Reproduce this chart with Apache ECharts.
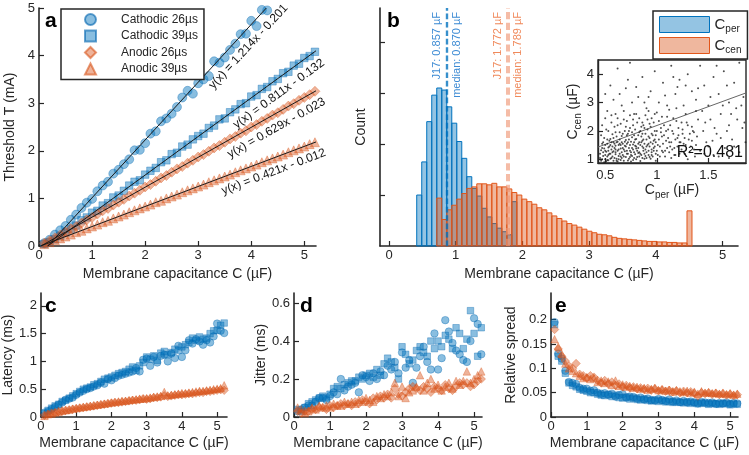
<!DOCTYPE html>
<html>
<head>
<meta charset="utf-8">
<script src="https://cdn.jsdelivr.net/npm/echarts@6.0.0/dist/echarts.min.js"></script>
<style>
html,body{margin:0;padding:0;background:#fff}
#main{width:749px;height:455px}
</style>
</head>
<body>
<div id="main"></div>
<script>
// membrane capacitance sample points (uF)
var C = [0.1,0.2,0.3,0.4,0.5,0.6,0.7,0.8,0.9,1.0,1.1,1.2,1.3,1.4,1.5,1.6,1.7,1.8,1.9,2.0,
         2.1,2.2,2.3,2.4,2.5,2.6,2.7,2.8,2.9,3.0,3.1,3.2,3.3,3.4,3.5,3.6,3.7,3.8,3.9,4.0,
         4.1,4.2,4.3,4.4,4.5,4.6,4.7,4.8,4.9,5.0,5.1,5.2];
var NAMES = ['Cathodic 26\u00b5s','Cathodic 39\u00b5s','Anodic 26\u00b5s','Anodic 39\u00b5s'];

// a: threshold (mA)
var thrCat26 = [0.06,0.13,0.24,0.33,0.42,0.55,0.66,0.80,0.91,0.99,1.15,1.27,1.35,1.52,1.60,1.72,1.82,2.01,2.02,2.16,
                2.36,2.41,2.62,2.68,2.78,2.92,3.12,3.26,3.20,3.42,3.50,3.57,3.88,3.85,3.96,4.12,4.25,4.45,4.46,4.73,
                4.62,4.96,4.95];
var thrCat39 = [0.04,0.08,0.14,0.21,0.28,0.36,0.43,0.54,0.60,0.70,0.74,0.85,0.90,1.02,1.06,1.16,1.27,1.35,1.38,1.50,
                1.58,1.64,1.76,1.80,1.93,1.96,2.09,2.13,2.24,2.31,2.36,2.48,2.53,2.66,2.68,2.81,2.87,2.98,3.00,3.14,
                3.17,3.30,3.34,3.46,3.51,3.63,3.66,3.79,3.83,3.95,3.99,4.08];
var thrAno26 = [0.06,0.11,0.17,0.23,0.29,0.36,0.41,0.48,0.55,0.60,0.67,0.74,0.79,0.86,0.92,0.98,1.05,1.11,1.17,1.24,
                1.29,1.36,1.43,1.48,1.55,1.62,1.67,1.74,1.80,1.87,1.92,1.99,2.06,2.11,2.18,2.25,2.30,2.37,2.42,2.50,
                2.55,2.62,2.68,2.75,2.80,2.87,2.94,2.99,3.06,3.12,3.18,3.25];
var thrAno39 = [0.04,0.08,0.12,0.16,0.20,0.24,0.29,0.32,0.37,0.41,0.45,0.50,0.53,0.58,0.62,0.66,0.71,0.75,0.79,0.83,
                0.87,0.92,0.95,1.00,1.04,1.08,1.13,1.17,1.21,1.25,1.29,1.34,1.38,1.42,1.46,1.50,1.55,1.59,1.63,1.67,
                1.71,1.76,1.80,1.84,1.88,1.92,1.97,2.01,2.05,2.09,2.14,2.18];
// fit lines y = m x + b
var FIT_M = [1.214, 0.811, 0.629, 0.421];
var FIT_B = [-0.201, -0.132, -0.023, -0.012];
var FIT_TXT = ['y(x) = 1.214x - 0.201','y(x) = 0.811x - 0.132','y(x) = 0.629x - 0.023','y(x) = 0.421x - 0.012'];
var FIT_TXT_END = [4.47, 5.21, 5.26, 5.31];

// b: histograms, common bins
var BIN0 = 0.4155, BINW = 0.075;
var histPer = [1.0,1.65,2.44,2.96,3.1,3.06,2.73,2.41,2.05,1.72,1.36,1.13,0.98,0.74,0.57,0.44,0.35,0.28,0.22,0.87];
var histCenFirstBin = 4;
var histCen = [0.94,0.52,0.71,0.80,0.92,1.03,1.13,1.16,1.22,1.22,1.2,1.23,1.16,1.16,1.12,1.05,1.0,0.92,0.87,0.82,
               0.75,0.71,0.65,0.59,0.54,0.49,0.44,0.41,0.37,0.33,0.29,0.26,0.23,0.22,0.2,0.17,0.15,0.14,0.13,0.12,
               0.11,0.1,0.09,0.09,0.08,0.08,0.07,0.07,0.06,0.06,0.69];
var perLines = [['J17: 0.857 \u00b5F',0.857],['median: 0.870 \u00b5F',0.870]];
var cenLines = [['J17: 1.772 \u00b5F',1.772],['median: 1.789 \u00b5F',1.789]];

// b inset: C_cen vs C_per
var insetPts = [[0.46,0.95],[0.48,1.12],[0.5,1.3],[0.47,1.55],[0.52,0.98],[0.55,1.2],[0.53,1.42],[0.56,1.05],[0.58,1.6],[0.6,1.18],
 [0.49,1.75],[0.62,0.92],[0.63,1.35],[0.65,1.5],[0.57,1.88],[0.61,1.02],[0.66,1.25],[0.68,1.1],[0.7,1.45],[0.64,1.7],
 [0.72,0.96],[0.74,1.3],[0.69,1.62],[0.71,1.85],[0.75,1.15],[0.77,1.52],[0.78,1.05],[0.8,1.38],[0.73,2.0],[0.82,1.22],
 [0.79,1.7],[0.84,0.94],[0.85,1.6],[0.87,1.3],[0.83,1.95],[0.89,1.12],[0.9,1.45],[0.92,1.8],[0.88,2.1],[0.94,1.02],
 [0.95,1.35],[0.97,1.65],[0.99,1.2],[0.93,2.25],[0.51,2.05],[0.54,1.65],[0.59,1.4],[0.62,2.2],[0.67,1.9],[0.7,2.15],
 [0.76,1.78],[0.81,2.3],[0.86,1.9],[0.91,2.4],[0.98,2.0],[0.45,1.2],[0.47,1.4],[0.5,1.0],[0.53,1.15],[0.55,1.5],
 [0.58,0.95],[0.6,1.35],[0.63,1.12],[0.65,0.98],[0.67,1.4],[0.69,1.28],[0.72,1.6],[0.74,1.08],[0.76,1.4],[0.78,1.25],
 [0.8,1.0],[0.82,1.55],[0.84,1.2],[0.86,1.45],[0.88,1.02],[0.9,1.25],[0.92,1.55],[0.95,1.15],[0.97,1.4],[0.99,0.95],
 [0.46,1.85],[0.52,1.7],[0.56,2.3],[0.6,1.95],[0.64,1.55],[0.68,2.4],[0.73,1.4],[0.77,2.2],[0.85,2.15],[0.96,1.85],
 [0.49,0.9],[0.57,1.25],[0.61,1.6],[0.66,1.05],[0.71,1.2],[0.75,0.92],[0.79,1.48],[0.83,1.1],[0.87,1.7],[0.93,1.08],
 [1.01,1.5],[1.03,1.1],[1.05,1.8],[1.07,2.2],[1.08,1.3],[1.1,2.5],[1.12,1.6],[1.14,1.05],[1.15,2.0],[1.17,1.4],
 [1.19,2.8],[1.2,1.75],[1.22,1.2],[1.24,2.3],[1.26,1.55],[1.28,2.6],[1.3,1.0],[1.32,1.9],[1.34,2.15],[1.36,1.35],
 [1.38,2.7],[1.02,2.35],[1.04,1.95],[1.06,1.25],[1.09,1.65],[1.11,2.05],[1.13,1.45],[1.16,2.45],[1.18,1.15],[1.21,2.1],
 [1.23,1.6],[1.25,1.9],[1.27,1.2],[1.29,2.3],[1.31,1.7],[1.33,1.45],[1.35,2.0],[1.37,1.1],[1.39,1.8],
 [0.52,2.7],[0.58,3.1],[0.55,3.6],[0.62,4.2],[0.66,2.9],[0.7,3.5],[0.74,4.4],[0.78,2.6],[0.82,3.2],[0.86,3.9],
 [0.9,2.8],[0.94,3.4],[0.98,4.1],[1.02,3.0],[1.06,3.7],[1.1,2.9],[1.14,4.3],[1.18,3.3],[1.22,3.8],[1.26,2.9],
 [1.3,4.0],[1.34,3.4],[1.38,3.1],[1.42,4.3],[1.46,3.6],[1.5,2.9],[1.55,3.9],[1.6,3.3],[1.65,4.1],[1.7,3.0],
 [1.75,3.7],[1.8,4.4],[1.84,3.2],[0.6,2.6],[0.88,3.0],[0.5,3.3],[0.76,3.0],[1.0,2.65],[1.2,3.55],[1.44,2.7],
 [1.42,1.3],[1.45,2.0],[1.48,1.6],[1.52,2.4],[1.55,1.15],[1.58,1.9],[1.62,2.6],[1.66,1.4],[1.7,2.2],[1.73,1.7],
 [1.77,2.8],[1.8,1.25],[1.83,2.1],[1.86,1.6],[1.47,2.3],[1.6,1.1],[1.68,2.0],[1.78,2.4],[1.5,1.45],[1.64,2.9],
 [0.45,1.05],[0.46,1.32],[0.47,1.0],[0.48,1.25],[0.48,1.6],[0.49,1.38],[0.5,1.15],[0.5,1.5],[0.51,0.93],[0.51,1.27],
 [0.52,1.55],[0.52,1.1],[0.53,1.3],[0.53,0.97],[0.54,1.45],[0.54,1.2],[0.55,1.02],[0.55,1.72],[0.56,1.35],[0.56,1.6],
 [0.57,1.1],[0.57,1.45],[0.58,1.28],[0.58,1.75],[0.59,1.05],[0.59,1.55],[0.6,1.25],[0.6,1.48],[0.61,0.95],[0.61,1.8],
 [0.62,1.3],[0.62,1.62],[0.63,1.0],[0.63,1.5],[0.64,1.2],[0.64,1.95],[0.65,1.1],[0.65,1.38],[0.66,1.6],[0.66,1.82],
 [0.67,1.15],[0.67,1.55],[0.68,1.35],[0.68,0.95],[0.69,1.48],[0.69,2.0],[0.7,1.08],[0.7,1.68],[0.71,1.3],[0.71,1.55],
 [0.72,1.2],[0.72,1.9],[0.73,1.02],[0.73,1.7],[0.74,1.5],[0.74,2.1],[0.75,1.25],[0.75,1.62],[0.76,1.12],[0.76,1.95],
 [0.77,1.35],[0.77,0.98],[0.78,1.6],[0.78,1.85],[0.79,1.18],[0.79,2.05],[0.8,1.45],[0.8,1.72],[0.81,1.08],[0.81,1.3],
 [0.82,1.85],[0.82,1.4],[0.83,1.6],[0.83,1.25],[0.84,2.0],[0.84,1.5],[0.85,1.15],[0.85,1.8],[0.86,1.05],[0.86,1.65],
 [0.87,1.4],[0.87,2.2],[0.88,1.55],[0.88,1.2],[0.89,1.9],[0.89,1.35],[0.9,1.7],[0.9,1.05],[0.91,1.5],[0.91,2.05],
 [0.92,1.3],[0.92,1.15],[0.93,1.75],[0.93,1.45],[0.94,1.6],[0.94,2.15],[0.95,1.25],[0.95,1.9],[0.96,1.1],[0.96,1.55],
 [0.97,1.3],[0.97,2.3],[0.98,1.7],[0.98,1.45],[0.99,1.85],[0.99,1.6],[1.0,1.3],[1.0,2.0],[1.01,1.15],[1.02,1.7],
 [1.03,1.45],[1.04,2.1],[1.05,1.3],[1.06,1.55],[1.07,1.85],[1.08,1.1],[1.09,2.0],[1.1,1.4],[1.11,1.75],[1.12,1.25],
 [1.13,2.2],[1.14,1.6],[1.15,1.35],[1.16,1.9],[1.17,1.15],[1.18,1.7],[1.19,2.35],[1.2,1.45],[1.21,1.85],[1.22,1.6],
 [1.24,1.35],[1.25,2.05],[1.27,1.75],[1.28,1.5],[1.3,2.2],[1.32,1.25],[1.34,1.65],[1.36,1.95],[1.38,1.5],[1.4,2.4],
 [0.47,2.2],[0.5,2.45],[0.53,2.0],[0.56,2.55],[0.59,2.15],[0.62,2.45],[0.65,2.25],[0.68,2.7],[0.71,2.35],[0.74,2.55],
 [0.77,2.4],[0.8,2.6],[0.83,2.45],[0.86,2.3],[0.89,2.55],[0.92,2.7],[0.95,2.45],[0.98,2.6],[1.05,2.5],[1.12,2.75],
 [0.64,3.3],[0.72,3.8],[0.8,3.55],[0.92,3.2],[1.08,3.25],[1.16,3.9],[1.28,3.6],[1.4,3.5],[1.52,3.2],[1.58,4.3],
 [1.68,3.6],[1.72,2.6],[1.82,2.9],[1.56,2.1],[1.62,1.75],[1.75,1.45],[1.46,1.2],[1.54,1.65],[1.7,1.05],[1.85,2.3]];
var insetFit = [1.33, 0.86];

// c: latency (ms)
var latCat26 = [0.08,0.10,0.14,0.18,0.22,0.26,0.31,0.33,0.35,0.40,0.44,0.47,0.50,0.52,0.55,0.57,0.62,0.60,0.68,0.66,
                0.70,0.74,0.76,0.78,0.80,0.82,0.88,0.82,1.03,1.05,0.92,1.08,0.98,1.10,1.12,1.00,1.14,1.06,1.28,1.08,
                1.20,1.38,1.32,1.40,1.36,1.30,1.38,1.34,1.45,1.68,1.55,1.51];
var latCat39 = [0.06,0.12,0.16,0.20,0.23,0.28,0.30,0.34,0.38,0.42,0.46,0.50,0.52,0.54,0.58,0.60,0.64,0.68,0.70,0.72,
                0.75,0.78,0.80,0.82,0.86,0.90,0.84,0.92,0.98,1.08,1.04,1.10,1.02,1.15,1.18,1.12,1.16,1.22,1.20,1.26,
                1.30,1.34,1.42,1.38,1.44,1.40,1.42,1.50,1.55,1.56,1.65,1.69];
var latAno26 = [0.03,0.05,0.07,0.08,0.10,0.11,0.12,0.13,0.14,0.15,0.16,0.17,0.18,0.19,0.20,0.21,0.22,0.23,0.24,0.25,
                0.26,0.26,0.27,0.28,0.29,0.30,0.30,0.31,0.33,0.32,0.33,0.35,0.35,0.36,0.38,0.37,0.38,0.39,0.40,0.40,
                0.41,0.42,0.42,0.43,0.44,0.44,0.46,0.46,0.47,0.48,0.49,0.48];
var latAno39 = [0.02,0.05,0.06,0.08,0.09,0.11,0.12,0.13,0.15,0.16,0.17,0.18,0.19,0.20,0.21,0.22,0.23,0.24,0.25,0.26,
                0.27,0.28,0.29,0.29,0.30,0.31,0.32,0.33,0.33,0.34,0.35,0.36,0.37,0.38,0.45,0.39,0.40,0.41,0.42,0.43,
                0.43,0.44,0.45,0.46,0.47,0.47,0.48,0.49,0.50,0.51,0.52,0.57];

// d: jitter (ms)
var jitCat26 = [0.03,0.04,0.05,0.06,0.06,0.08,0.10,0.10,0.09,0.11,0.13,0.12,0.20,0.14,0.16,0.17,0.18,0.13,0.22,0.21,
                0.19,0.23,0.20,0.24,0.22,0.27,0.25,0.29,0.23,0.34,0.26,0.30,0.18,0.26,0.32,0.37,0.29,0.25,0.44,0.25,
                0.31,0.51,0.45,0.39,0.35,0.33,0.30,0.29,0.40,0.52,0.49,0.33];
var jitCat39 = [0.04,0.03,0.05,0.07,0.08,0.09,0.10,0.11,0.10,0.12,0.15,0.16,0.15,0.17,0.18,0.19,0.19,0.21,0.20,0.22,
                0.23,0.21,0.25,0.22,0.28,0.31,0.29,0.26,0.20,0.37,0.33,0.28,0.30,0.35,0.37,0.34,0.32,0.40,0.36,0.40,
                0.37,0.43,0.41,0.36,0.47,0.44,0.36,0.41,0.56,0.44,0.32,0.47];
var jitAno26 = [0.03,0.02,0.03,0.03,0.04,0.04,0.05,0.05,0.04,0.06,0.05,0.06,0.07,0.06,0.07,0.06,0.08,0.07,0.09,0.08,
                0.07,0.10,0.09,0.11,0.10,0.12,0.10,0.15,0.12,0.11,0.13,0.15,0.16,0.15,0.14,0.16,0.15,0.13,0.16,0.15,
                0.14,0.17,0.15,0.14,0.16,0.18,0.17,0.18,0.16,0.17,0.19,0.20];
var jitAno39 = [0.05,0.04,0.02,0.03,0.05,0.04,0.06,0.05,0.06,0.05,0.07,0.06,0.06,0.08,0.07,0.08,0.07,0.09,0.08,0.10,
                0.09,0.08,0.11,0.10,0.12,0.11,0.13,0.18,0.11,0.16,0.10,0.13,0.14,0.16,0.22,0.14,0.18,0.20,0.15,0.17,
                0.14,0.16,0.18,0.15,0.19,0.17,0.19,0.24,0.18,0.20,0.22,0.24];

// e: relative spread
var rsCat26 = [0.195,0.13,0.12,0.095,0.072,0.07,0.068,0.06,0.058,0.058,0.054,0.055,0.05,0.048,0.049,0.046,0.048,0.042,0.045,0.047,
               0.04,0.042,0.041,0.038,0.04,0.036,0.038,0.035,0.034,0.037,0.035,0.033,0.036,0.032,0.034,0.031,0.033,0.03,0.032,0.03,
               0.028,0.031,0.03,0.029,0.03,0.027,0.029,0.028,0.03,0.027,0.029,0.028];
var rsCat39 = [0.19,0.125,0.115,0.09,0.07,0.065,0.062,0.057,0.055,0.053,0.05,0.05,0.047,0.045,0.044,0.046,0.042,0.045,0.04,0.039,
               0.041,0.037,0.039,0.036,0.035,0.037,0.034,0.033,0.035,0.032,0.034,0.031,0.032,0.03,0.031,0.03,0.029,0.031,0.028,0.03,
               0.027,0.029,0.028,0.026,0.028,0.027,0.026,0.028,0.027,0.025,0.027,0.026];
var rsAno26 = [0.18,0.14,0.125,0.115,0.105,0.1,0.11,0.088,0.085,0.08,0.085,0.082,0.075,0.07,0.075,0.068,0.072,0.065,0.068,0.062,
               0.065,0.06,0.062,0.058,0.06,0.057,0.059,0.055,0.058,0.054,0.056,0.053,0.055,0.052,0.054,0.05,0.053,0.05,0.052,0.049,
               0.043,0.05,0.048,0.05,0.047,0.049,0.046,0.048,0.045,0.047,0.044,0.046];
var rsAno39 = [0.16,0.145,0.13,0.11,0.1,0.095,0.09,0.085,0.08,0.082,0.078,0.08,0.072,0.075,0.07,0.073,0.066,0.075,0.064,0.067,
               0.062,0.064,0.06,0.062,0.058,0.06,0.056,0.058,0.06,0.055,0.057,0.054,0.056,0.052,0.055,0.053,0.051,0.054,0.05,0.052,
               0.048,0.053,0.05,0.051,0.049,0.05,0.048,0.05,0.047,0.049,0.046,0.048];

var FONT = '"Liberation Sans", Arial, Helvetica, sans-serif';
var INK = '#262626';
var blueFill = 'rgba(0,114,189,0.58)', orangeFill = 'rgba(217,83,25,0.55)';

function pairs(ys) { return ys.map(function (y, i) { return [C[i], y]; }); }

function axis(grid, min, max, ticks, showLabels) {
    return {
        type: 'value', gridIndex: grid, min: min, max: max,
        splitLine: {show: false},
        axisLine: {show: true, onZero: false, lineStyle: {color: INK, width: 1.6}},
        axisTick: {show: true, inside: true, length: 5, customValues: ticks, lineStyle: {color: INK, width: 1.2}},
        axisLabel: {show: showLabels, customValues: ticks, color: INK, fontSize: 13, margin: 4, fontFamily: FONT},
        nameLocation: 'middle',
        nameTextStyle: {color: INK, fontSize: 14, fontFamily: FONT}
    };
}

var SUB = {s: {fontSize: 10, verticalAlign: 'bottom', lineHeight: 19, fontFamily: FONT, color: INK}};

var xAxes = [
    axis(0, 0, 5.22, [0,1,2,3,4,5], true),
    axis(1, -0.135, 5.23, [0,1,2,3,4,5], true),
    axis(2, 0.43, 1.865, [0.5,1,1.5], true),
    axis(3, 0, 5.28, [0,1,2,3,4,5], true),
    axis(4, 0, 5.22, [0,1,2,3,4,5], true),
    axis(5, 0, 5.22, [0,1,2,3,4,5], true)
];
var yAxes = [
    axis(0, 0, 5, [0,1,2,3,4,5], true),
    axis(1, 0, 4.67, [1,2,3,4], false),
    axis(2, 0.87, 4.5, [1,2,3,4], true),
    axis(3, 0, 2.23, [0,0.5,1,1.5,2], true),
    axis(4, 0, 0.653, [0,0.2,0.4,0.6], true),
    axis(5, 0, 0.255, [0,0.05,0.1,0.15,0.2], true)
];
[0,1,3,4,5].forEach(function (i) {
    xAxes[i].name = 'Membrane capacitance C (\u00b5F)';
    xAxes[i].nameGap = 19;
    xAxes[i].axisLabel.margin = 3;
});
yAxes[0].name = 'Threshold T (mA)'; yAxes[0].nameGap = 22;
yAxes[1].name = 'Count'; yAxes[1].nameGap = 12;
yAxes[3].name = 'Latency (ms)'; yAxes[3].nameGap = 20;
yAxes[4].name = 'Jitter (ms)'; yAxes[4].nameGap = 26;
yAxes[5].name = 'Relative spread'; yAxes[5].nameGap = 32;
xAxes[2].name = 'C{s|per} (\u00b5F)'; xAxes[2].nameGap = 18;
xAxes[2].nameTextStyle.rich = SUB;
xAxes[2].axisLabel.margin = 6;
yAxes[2].name = 'C{s|cen} (\u00b5F)'; yAxes[2].nameGap = 13;
yAxes[2].nameTextStyle.rich = SUB;
xAxes[2].axisLine.lineStyle.width = 1.4;
yAxes[2].axisLine.lineStyle.width = 1.4;

var symbols = ['circle', 'rect', 'diamond', 'triangle'];
var sizesA = [9, 7.5, 10, 9];
var sizesB = [7.5, 6.5, 8.5, 7.5];
function markers(k, gi, ys, small) {
    var blue = k < 2;
    return {
        type: 'scatter', name: NAMES[k], xAxisIndex: gi, yAxisIndex: gi,
        symbol: symbols[k], symbolSize: small ? sizesB[k] : sizesA[k],
        itemStyle: {color: blue ? blueFill : orangeFill,
                    borderColor: blue ? 'rgba(0,100,175,0.75)' : 'rgba(217,83,25,0.75)', borderWidth: 0.6},
        data: pairs(ys), silent: true
    };
}

function histSeries(name, counts, firstBin, fill, edge, lines, lineColor, txtColor, lineW) {
    var data = counts.map(function (h, j) {
        var i = firstBin + j;
        return [BIN0 + i * BINW, BIN0 + (i + 1) * BINW, h];
    });
    return {
        type: 'custom', name: name, xAxisIndex: 1, yAxisIndex: 1,
        itemStyle: {color: fill, borderColor: edge, borderWidth: 1},
        encode: {x: [0, 1], y: 2},
        renderItem: function (params, api) {
            var p0 = api.coord([api.value(0), api.value(2)]);
            var p1 = api.coord([api.value(1), 0]);
            return {type: 'rect', shape: {x: p0[0], y: p0[1], width: p1[0] - p0[0], height: p1[1] - p0[1]},
                    style: {fill: fill, stroke: edge, lineWidth: 1}};
        },
        data: data,
        markLine: {
            silent: true, symbol: 'none', animation: false,
            lineStyle: {type: 'dashed', color: lineColor, width: lineW},
            label: {color: txtColor, fontSize: 11, fontFamily: FONT, distance: 4},
            data: [
                {xAxis: lines[0][1], label: {formatter: lines[0][0], position: 'insideEndTop'}},
                {xAxis: lines[1][1], label: {formatter: lines[1][0], position: 'insideEndBottom'}}
            ]
        }
    };
}

var series = [];
[thrCat26, thrCat39, thrAno26, thrAno39].forEach(function (ys, k) { series.push(markers(k, 0, ys, false)); });
FIT_M.forEach(function (m, k) {
    var b = FIT_B[k];
    var x0 = -b / m, x1 = Math.min(5.22, (5 - b) / m);
    series.push({type: 'line', xAxisIndex: 0, yAxisIndex: 0, showSymbol: false, silent: true,
                 lineStyle: {color: '#1a1a1a', width: 1}, data: [[x0, m * x0 + b], [x1, m * x1 + b]]});
});
series.push(histSeries('Cper', histPer, 0, 'rgba(0,114,189,0.42)', '#0072BD', perLines,
                       'rgba(0,114,189,0.75)', '#3d8bd4', 1.4));
series.push(histSeries('Ccen', histCen, histCenFirstBin, 'rgba(217,83,25,0.42)', '#E2561A', cenLines,
                       'rgba(240,150,115,0.7)', '#f08a5c', 1.8));
series.push({type: 'scatter', xAxisIndex: 2, yAxisIndex: 2, symbolSize: 2, silent: true, z: 10,
             itemStyle: {color: '#222'}, data: insetPts});
series.push({type: 'line', xAxisIndex: 2, yAxisIndex: 2, showSymbol: false, silent: true, z: 10,
             lineStyle: {color: '#666', width: 1},
             data: [[0.43, insetFit[0] * 0.43 + insetFit[1]], [1.865, insetFit[0] * 1.865 + insetFit[1]]]});
[latCat26, latCat39, latAno26, latAno39].forEach(function (ys, k) { series.push(markers(k, 3, ys, true)); });
[jitCat26, jitCat39, jitAno26, jitAno39].forEach(function (ys, k) { series.push(markers(k, 4, ys, true)); });
[rsCat26, rsCat39, rsAno26, rsAno39].forEach(function (ys, k) { series.push(markers(k, 5, ys, true)); });

var option = {
    animation: false,
    backgroundColor: '#fff',
    textStyle: {fontFamily: FONT, color: INK},
    grid: [
        {left: 39, top: 8, width: 277, height: 238},
        {left: 380, top: 8, width: 358, height: 238},
        {left: 598, top: 60, width: 148, height: 103, show: true, backgroundColor: '#fff',
         borderColor: INK, borderWidth: 1.4},
        {left: 39, top: 293, width: 188, height: 124},
        {left: 294, top: 293, width: 188, height: 124},
        {left: 551, top: 293, width: 187, height: 124}
    ],
    xAxis: xAxes,
    yAxis: yAxes,
    legend: [
        {left: 61, top: 9, orient: 'vertical', data: NAMES, selectedMode: false,
         itemWidth: 11, itemHeight: 11, itemGap: 3.5, padding: [4, 6, 4, 23],
         backgroundColor: '#fff', borderColor: INK, borderWidth: 1.5, borderRadius: 0,
         textStyle: {fontSize: 12, color: INK, fontFamily: FONT, padding: [0, 0, 0, 20], lineHeight: 11}},
        {left: 653, top: 11, orient: 'vertical', selectedMode: false,
         data: [
             {name: 'Cper', icon: 'rect', itemStyle: {color: 'rgba(0,114,189,0.42)', borderColor: '#0072BD', borderWidth: 1}},
             {name: 'Ccen', icon: 'rect', itemStyle: {color: 'rgba(217,83,25,0.42)', borderColor: '#E2561A', borderWidth: 1}}
         ],
         itemWidth: 50, itemHeight: 16, itemGap: 2, padding: [4, 6, 4, 6],
         backgroundColor: '#fff', borderColor: INK, borderWidth: 1.5, borderRadius: 0,
         formatter: function (n) { return n === 'Cper' ? 'C{s|per}' : 'C{s|cen}'; },
         textStyle: {fontSize: 15, color: INK, fontFamily: FONT, lineHeight: 19, rich: SUB}}
    ],
    series: series
};

var chart = echarts.init(document.getElementById('main'));
chart.setOption(option);

// panel letters, R^2 and fit equations
var graphics = [];
[['a', 45, 32], ['b', 387, 32], ['c', 45, 317], ['d', 300, 317], ['e', 555, 317]].forEach(function (l) {
    graphics.push({type: 'text', x: l[1], y: l[2], z: 100,
                   style: {text: l[0], font: 'bold 21px ' + FONT, fill: '#000', textVerticalAlign: 'bottom'}});
});
graphics.push({type: 'text', x: 743, y: 161, z: 100,
               style: {text: 'R\u00b2=0.481', font: '16px ' + FONT, fill: '#111',
                       textAlign: 'right', textVerticalAlign: 'bottom'}});
FIT_M.forEach(function (m, k) {
    var b = FIT_B[k], xe = FIT_TXT_END[k];
    var pe = chart.convertToPixel({xAxisIndex: 0, yAxisIndex: 0}, [xe, m * xe + b]);
    var pa = chart.convertToPixel({xAxisIndex: 0, yAxisIndex: 0}, [xe - 1, m * (xe - 1) + b]);
    var ang = Math.atan2(pa[1] - pe[1], pe[0] - pa[0]);
    var off = 7;
    graphics.push({type: 'text', x: pe[0] + Math.sin(ang) * off, y: pe[1] + Math.cos(ang) * off,
                   rotation: ang, z: 100,
                   style: {text: FIT_TXT[k], font: '12px ' + FONT, fill: '#111',
                           textAlign: 'right', textVerticalAlign: 'top',
                           align: 'right', verticalAlign: 'top'}});
});
chart.setOption({graphic: graphics});
</script>
</body>
</html>
